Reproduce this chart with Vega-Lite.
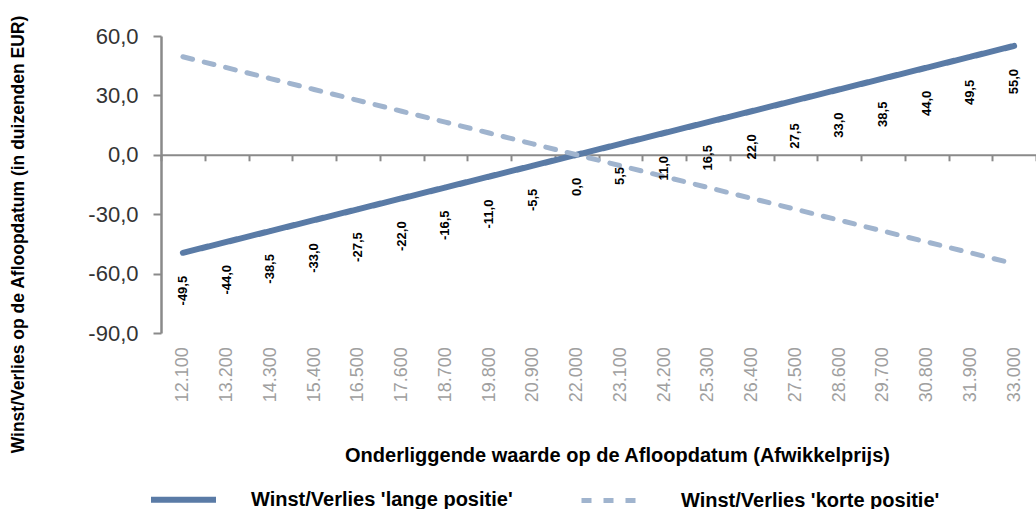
{
  "$schema": "https://vega.github.io/schema/vega-lite/v6.json",
  "autosize": {"type": "none"},
  "padding": {"left": 161, "top": 36, "right": 0, "bottom": 176},
  "width": 875,
  "height": 297,
  "background": "white",
  "config": {
    "view": {"stroke": null},
    "font": "Liberation Sans",
    "locale": {"number": {"decimal": ",", "thousands": ".", "grouping": [3], "currency": ["€", ""], "minus": "-"}}
  },
  "data": {"values": [
    {"koers": "12.100", "reeks": "Winst/Verlies 'lange positie'", "waarde": -49.5},
    {"koers": "13.200", "reeks": "Winst/Verlies 'lange positie'", "waarde": -44.0},
    {"koers": "14.300", "reeks": "Winst/Verlies 'lange positie'", "waarde": -38.5},
    {"koers": "15.400", "reeks": "Winst/Verlies 'lange positie'", "waarde": -33.0},
    {"koers": "16.500", "reeks": "Winst/Verlies 'lange positie'", "waarde": -27.5},
    {"koers": "17.600", "reeks": "Winst/Verlies 'lange positie'", "waarde": -22.0},
    {"koers": "18.700", "reeks": "Winst/Verlies 'lange positie'", "waarde": -16.5},
    {"koers": "19.800", "reeks": "Winst/Verlies 'lange positie'", "waarde": -11.0},
    {"koers": "20.900", "reeks": "Winst/Verlies 'lange positie'", "waarde": -5.5},
    {"koers": "22.000", "reeks": "Winst/Verlies 'lange positie'", "waarde": 0.0},
    {"koers": "23.100", "reeks": "Winst/Verlies 'lange positie'", "waarde": 5.5},
    {"koers": "24.200", "reeks": "Winst/Verlies 'lange positie'", "waarde": 11.0},
    {"koers": "25.300", "reeks": "Winst/Verlies 'lange positie'", "waarde": 16.5},
    {"koers": "26.400", "reeks": "Winst/Verlies 'lange positie'", "waarde": 22.0},
    {"koers": "27.500", "reeks": "Winst/Verlies 'lange positie'", "waarde": 27.5},
    {"koers": "28.600", "reeks": "Winst/Verlies 'lange positie'", "waarde": 33.0},
    {"koers": "29.700", "reeks": "Winst/Verlies 'lange positie'", "waarde": 38.5},
    {"koers": "30.800", "reeks": "Winst/Verlies 'lange positie'", "waarde": 44.0},
    {"koers": "31.900", "reeks": "Winst/Verlies 'lange positie'", "waarde": 49.5},
    {"koers": "33.000", "reeks": "Winst/Verlies 'lange positie'", "waarde": 55.0},
    {"koers": "12.100", "reeks": "Winst/Verlies 'korte positie'", "waarde": 49.5},
    {"koers": "13.200", "reeks": "Winst/Verlies 'korte positie'", "waarde": 44.0},
    {"koers": "14.300", "reeks": "Winst/Verlies 'korte positie'", "waarde": 38.5},
    {"koers": "15.400", "reeks": "Winst/Verlies 'korte positie'", "waarde": 33.0},
    {"koers": "16.500", "reeks": "Winst/Verlies 'korte positie'", "waarde": 27.5},
    {"koers": "17.600", "reeks": "Winst/Verlies 'korte positie'", "waarde": 22.0},
    {"koers": "18.700", "reeks": "Winst/Verlies 'korte positie'", "waarde": 16.5},
    {"koers": "19.800", "reeks": "Winst/Verlies 'korte positie'", "waarde": 11.0},
    {"koers": "20.900", "reeks": "Winst/Verlies 'korte positie'", "waarde": 5.5},
    {"koers": "22.000", "reeks": "Winst/Verlies 'korte positie'", "waarde": 0.0},
    {"koers": "23.100", "reeks": "Winst/Verlies 'korte positie'", "waarde": -5.5},
    {"koers": "24.200", "reeks": "Winst/Verlies 'korte positie'", "waarde": -11.0},
    {"koers": "25.300", "reeks": "Winst/Verlies 'korte positie'", "waarde": -16.5},
    {"koers": "26.400", "reeks": "Winst/Verlies 'korte positie'", "waarde": -22.0},
    {"koers": "27.500", "reeks": "Winst/Verlies 'korte positie'", "waarde": -27.5},
    {"koers": "28.600", "reeks": "Winst/Verlies 'korte positie'", "waarde": -33.0},
    {"koers": "29.700", "reeks": "Winst/Verlies 'korte positie'", "waarde": -38.5},
    {"koers": "30.800", "reeks": "Winst/Verlies 'korte positie'", "waarde": -44.0},
    {"koers": "31.900", "reeks": "Winst/Verlies 'korte positie'", "waarde": -49.5},
    {"koers": "33.000", "reeks": "Winst/Verlies 'korte positie'", "waarde": -55.0}
  ]},
  "encoding": {
    "x": {
      "field": "koers", "type": "nominal", "sort": null,
      "scale": {"type": "band", "paddingInner": 0, "paddingOuter": 0},
      "axis": {
        "title": "Onderliggende waarde op de Afloopdatum (Afwikkelprijs)",
        "titleFont": "Liberation Sans", "titleFontSize": 20, "titleFontWeight": "bold", "titleColor": "#000000",
        "titleX": 456, "titleY": 291, "titleBaseline": "top",
        "offset": -178.2,
        "labelAngle": -90, "labelFontSize": 18, "labelColor": "#a0a0a0", "labelPadding": 186,
        "tickBand": "extent", "tickSize": 6, "tickWidth": 2, "tickColor": "#8a8a8a",
        "domainColor": "#8a8a8a", "domainWidth": 2,
        "grid": false
      }
    },
    "y": {
      "field": "waarde", "type": "quantitative",
      "scale": {"domain": [-90, 60], "nice": false, "zero": false},
      "axis": {
        "title": "Winst/Verlies op de Afloopdatum (in duizenden EUR)",
        "titleFont": "Liberation Sans", "titleFontSize": 17.5, "titleFontWeight": "bold", "titleColor": "#000000",
        "titleX": -143, "titleY": 198, "titleBaseline": "middle", "titleAngle": 270,
        "values": [-90, -60, -30, 0, 30, 60], "format": ".1f",
        "labelFontSize": 22, "labelColor": "#333333", "labelPadding": 15,
        "tickSize": 8, "tickWidth": 2, "tickColor": "#8a8a8a",
        "domainColor": "#8a8a8a", "domainWidth": 2.5,
        "grid": false
      }
    }
  },
  "layer": [
    {
      "mark": {"type": "line", "strokeCap": "round"},
      "encoding": {
        "color": {
          "field": "reeks", "type": "nominal",
          "scale": {"domain": ["Winst/Verlies 'lange positie'", "Winst/Verlies 'korte positie'"], "range": ["#5a7ba6", "#a0b4ce"]},
          "legend": {
            "title": null, "orient": "none", "direction": "horizontal",
            "legendX": -13, "legendY": 428,
            "symbolType": "stroke", "symbolSize": 4225, "symbolStrokeWidth": 6,
            "labelFont": "Liberation Sans", "labelFontSize": 20, "labelFontWeight": "bold", "labelColor": "#000000",
            "labelLimit": 0, "labelOffset": 32, "columnPadding": 58
          }
        },
        "strokeDash": {
          "field": "reeks", "type": "nominal",
          "scale": {"domain": ["Winst/Verlies 'lange positie'", "Winst/Verlies 'korte positie'"], "range": [[1, 0], [10, 12]]},
          "legend": null
        },
        "strokeWidth": {
          "field": "reeks", "type": "nominal",
          "scale": {"domain": ["Winst/Verlies 'lange positie'", "Winst/Verlies 'korte positie'"], "range": [6, 5]},
          "legend": null
        }
      }
    },
    {
      "transform": [{"filter": "datum.reeks === \"Winst/Verlies 'lange positie'\""}],
      "mark": {"type": "text", "angle": 270, "align": "right", "baseline": "middle", "yOffset": 23, "fontSize": 13, "fontWeight": "bold", "color": "#000000", "font": "Liberation Sans"},
      "encoding": {
        "text": {"field": "waarde", "type": "quantitative", "format": ".1f"}
      }
    }
  ]
}
